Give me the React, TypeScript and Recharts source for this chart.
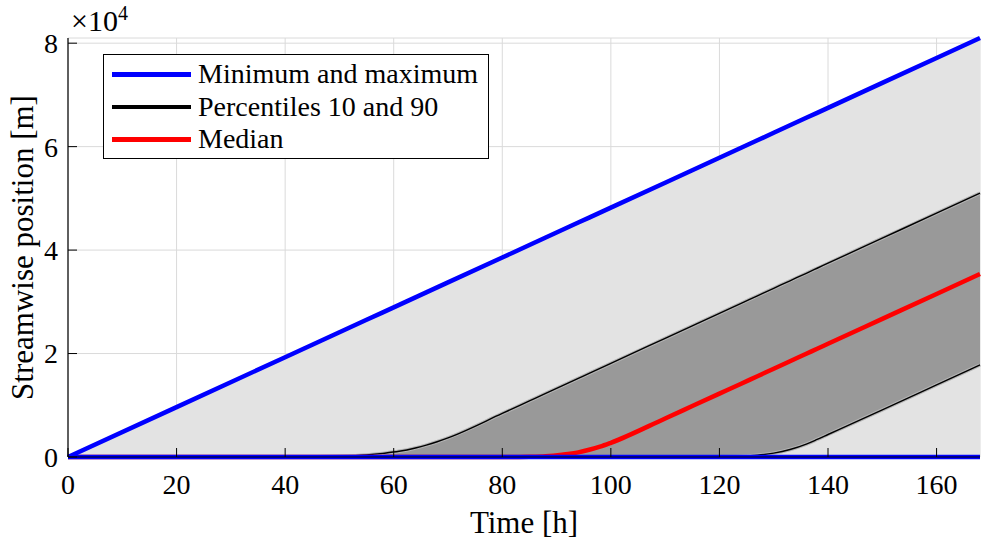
import React from 'react';
import { ComposedChart, Area, Line, XAxis, YAxis, CartesianGrid, Legend } from 'recharts';

// time in hours
const time = [0, 20, 40, 45, 50, 55, 58, 61, 64, 66, 68, 70, 80, 85, 88, 91, 94, 96, 98, 100, 110, 115, 120, 124, 127, 130, 133, 136, 138, 140, 150, 160, 168];

// streamwise position in m
const maxPos = [0, 9640, 19290, 21700, 24110, 26520, 27960, 29410, 30860, 31820, 32790, 33750, 38570, 40980, 42430, 43870, 45320, 46280, 47250, 48210, 53030, 55440, 57860, 59780, 61230, 62680, 64120, 65570, 66530, 67500, 72320, 77140, 81000];
const minPos = [0, 0, 0, 0, 0, 0, 0, 0, 0, 0, 0, 0, 0, 0, 0, 0, 0, 0, 0, 0, 0, 0, 0, 0, 0, 0, 0, 0, 0, 0, 0, 0, 0];
const p90 = [0, 0, 0, 50, 150, 400, 700, 1100, 1750, 2300, 2950, 3700, 8420, 10840, 12290, 13750, 15200, 16170, 17130, 18100, 22940, 25360, 27780, 29720, 31170, 32620, 34070, 35520, 36490, 37460, 42300, 47140, 51000];
const median = [0, 0, 0, 0, 0, 0, 0, 0, 0, 0, 0, 0, 0, 50, 150, 450, 900, 1400, 2000, 2750, 7450, 9850, 12250, 14170, 15620, 17060, 18510, 19950, 20920, 21880, 26700, 31520, 35380];
const p10 = [0, 0, 0, 0, 0, 0, 0, 0, 0, 0, 0, 0, 0, 0, 0, 0, 0, 0, 0, 0, 0, 0, 50, 150, 350, 750, 1450, 2500, 3400, 4350, 9110, 13930, 17790];

const xTicks = [0, 20, 40, 60, 80, 100, 120, 140, 160];
const yTicks = [0, 20000, 40000, 60000, 80000];

const legendItems = [
  { label: 'Minimum and maximum', color: '#0000ff' },
  { label: 'Percentiles 10 and 90', color: '#000000' },
  { label: 'Median', color: '#ff0000' },
];

const data = time.map((t, i) => ({
  t,
  min: minPos[i],
  max: maxPos[i],
  p10: p10[i],
  p90: p90[i],
  median: median[i],
  outer: [minPos[i], maxPos[i]],
  inner: [p10[i], p90[i]],
}));

const FONT = 'Liberation Serif, DejaVu Serif, serif';

const renderLegend = () => (
  <div
    style={{
      width: 384,
      height: 103,
      border: '1.5px solid #000',
      background: '#fff',
      fontFamily: FONT,
      fontSize: 28,
      boxSizing: 'content-box',
    }}
  >
    {legendItems.map((item, i) => (
      <div key={i} style={{ display: 'flex', alignItems: 'center', height: 32.5, marginTop: i === 0 ? 3 : 0 }}>
        <div style={{ width: 79, height: 4.5, background: item.color, marginLeft: 8, marginRight: 7 }} />
        <span style={{ lineHeight: '32px', whiteSpace: 'nowrap' }}>{item.label}</span>
      </div>
    ))}
  </div>
);

const YLabel = (props: any) => {
  const { x, y, height } = props.viewBox;
  const cx = x + 25;
  const cy = y + height / 2;
  return (
    <text x={cx} y={cy} transform={`rotate(-90 ${cx} ${cy})`} textAnchor="middle" fontFamily={FONT} fontSize={31} fill="#000">
      Streamwise position [m]
    </text>
  );
};

export default function App() {
  return (
    <div style={{ position: 'absolute', left: 0, top: 0, fontFamily: FONT }}>
      <ComposedChart width={982} height={541} data={data} margin={{ top: 38, right: 2, bottom: 0, left: 8 }}>
        <CartesianGrid stroke="#dadada" strokeWidth={1} />
        <XAxis
          dataKey="t"
          type="number"
          domain={[0, 168]}
          ticks={xTicks}
          height={84}
          tickSize={-9}
          tickMargin={26}
          stroke="#000"
          tick={{ fill: '#000', fontFamily: FONT, fontSize: 28 }}
          axisLine={{ stroke: '#000', strokeWidth: 1.2 }}
          label={{ value: 'Time [h]', position: 'insideBottom', offset: 8, fill: '#000', fontFamily: FONT, fontSize: 31 }}
        />
        <XAxis
          xAxisId="top"
          orientation="top"
          type="number"
          domain={[0, 168]}
          ticks={xTicks}
          height={0}
          tickSize={-9}
          tickFormatter={() => ''}
          stroke="#000"
          axisLine={{ stroke: '#000', strokeWidth: 1.2 }}
        />
        <YAxis
          type="number"
          domain={[0, 81000]}
          ticks={yTicks}
          width={60}
          tickSize={-9}
          tickMargin={19}
          stroke="#000"
          tickFormatter={(v: number) => String(v / 10000)}
          tick={{ fill: '#000', fontFamily: FONT, fontSize: 28 }}
          axisLine={{ stroke: '#000', strokeWidth: 1.2 }}
          label={<YLabel />}
        />
        <YAxis
          yAxisId="right"
          orientation="right"
          type="number"
          domain={[0, 81000]}
          ticks={yTicks}
          width={0}
          tickSize={-9}
          tickFormatter={() => ''}
          stroke="#000"
          axisLine={{ stroke: '#000', strokeWidth: 1.2 }}
        />
        <Area dataKey="outer" type="linear" stroke="none" fill="#e3e3e3" fillOpacity={1} isAnimationActive={false} />
        <Area dataKey="inner" type="linear" stroke="none" fill="#999999" fillOpacity={1} isAnimationActive={false} />
        <Line dataKey="p90" type="monotone" stroke="#b4b4b4" strokeWidth={3.5} dot={false} isAnimationActive={false} legendType="none" />
        <Line dataKey="p10" type="monotone" stroke="#b4b4b4" strokeWidth={3.5} dot={false} isAnimationActive={false} legendType="none" />
        <Line dataKey="p90" type="monotone" stroke="#000" strokeWidth={1.4} dot={false} isAnimationActive={false} />
        <Line dataKey="p10" type="monotone" stroke="#000" strokeWidth={1.4} dot={false} isAnimationActive={false} />
        <Line dataKey="median" type="monotone" stroke="#ff0000" strokeWidth={4.5} dot={false} isAnimationActive={false} />
        <Line dataKey="max" type="linear" stroke="#0000ff" strokeWidth={4.5} dot={false} isAnimationActive={false} />
        <Line dataKey="min" type="linear" stroke="#0000ff" strokeWidth={4.5} dot={false} isAnimationActive={false} />
        <Legend
          layout="vertical"
          align="center"
          verticalAlign="middle"
          content={renderLegend}
          wrapperStyle={{ left: 103, top: 54, width: 'auto', height: 'auto' }}
        />
      </ComposedChart>
      <div style={{ position: 'absolute', left: 71, top: 4, fontSize: 30, lineHeight: '34px', color: '#000', whiteSpace: 'nowrap' }}>
        ×10<span style={{ fontSize: 20, position: 'relative', top: -11 }}>4</span>
      </div>
    </div>
  );
}
